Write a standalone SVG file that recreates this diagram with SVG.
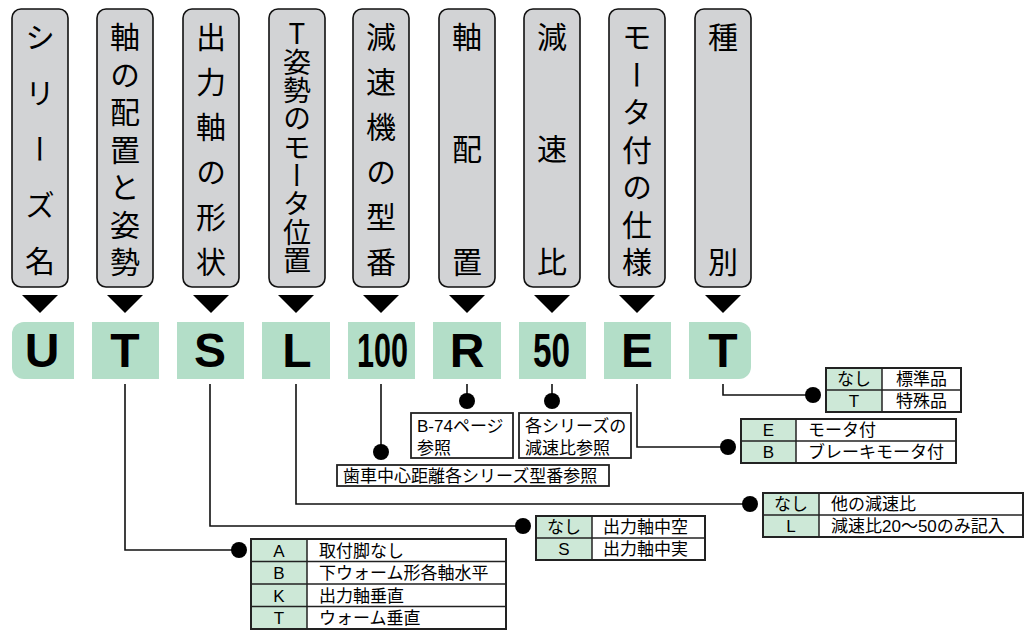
<svg xmlns="http://www.w3.org/2000/svg" width="1029" height="644" viewBox="0 0 1029 644">
<style>
.lbl{fill:#d2d3d5;stroke:#111;stroke-width:1.6}
.vt{font-family:"Noto Sans CJK JP",sans-serif;font-size:30px;fill:#000;writing-mode:vertical-rl;text-orientation:upright;text-anchor:start}
.tri{fill:#000}
.code{fill:#b3dec8}
.ct{font-family:"Liberation Sans",Arial,sans-serif;font-weight:bold;font-size:48px;fill:#000;text-anchor:middle}
.cn{font-family:"Liberation Sans",Arial,sans-serif;font-weight:bold;font-size:48px;fill:#000}
.ln{fill:none;stroke:#111;stroke-width:1.6}
.dot{fill:#000}
.tbo{fill:#fff;stroke:#222;stroke-width:2}
.tg{fill:#cde8d7}
.tl{stroke:#222;stroke-width:1.5}
.tt{font-family:"Liberation Sans","Noto Sans CJK JP",sans-serif;font-size:17px;fill:#000}
.tc{text-anchor:middle}
.bx{fill:#fff;stroke:#222;stroke-width:1.8}
</style>

<g id="label-series">
<rect class="lbl" x="12" y="9" width="56" height="278" rx="9"/>
<text class="vt"><tspan x="40" y="22">シ</tspan><tspan x="40" y="78">リ</tspan><tspan x="40" y="134">ー</tspan><tspan x="40" y="190">ズ</tspan><tspan x="40" y="246">名</tspan></text>
<polygon class="tri" points="22,295 58,295 40,313"/>
</g>
<g id="label-shaft-arrangement">
<rect class="lbl" x="97" y="9" width="56" height="278" rx="9"/>
<text class="vt"><tspan x="125" y="22">軸</tspan><tspan x="125" y="59.5">の</tspan><tspan x="125" y="97">配</tspan><tspan x="125" y="134.5">置</tspan><tspan x="125" y="172">と</tspan><tspan x="125" y="209.5">姿</tspan><tspan x="125" y="247">勢</tspan></text>
<polygon class="tri" points="107,295 143,295 125,313"/>
</g>
<g id="label-output-shaft">
<rect class="lbl" x="183" y="9" width="56" height="278" rx="9"/>
<text class="vt"><tspan x="211" y="22">出</tspan><tspan x="211" y="67">力</tspan><tspan x="211" y="112">軸</tspan><tspan x="211" y="157">の</tspan><tspan x="211" y="202">形</tspan><tspan x="211" y="247">状</tspan></text>
<polygon class="tri" points="193,295 229,295 211,313"/>
</g>
<g id="label-motor-position">
<rect class="lbl" x="269" y="9" width="56" height="278" rx="9"/>
<text class="vt" style="font-size:28px"><tspan x="297" y="19">T</tspan><tspan x="297" y="48">姿</tspan><tspan x="297" y="76">勢</tspan><tspan x="297" y="104">の</tspan><tspan x="297" y="133">モ</tspan><tspan x="297" y="161">ー</tspan><tspan x="297" y="189">タ</tspan><tspan x="297" y="218">位</tspan><tspan x="297" y="246">置</tspan></text>
<polygon class="tri" points="278,295 314,295 296,313"/>
</g>
<g id="label-reducer-model">
<rect class="lbl" x="353" y="9" width="56" height="278" rx="9"/>
<text class="vt"><tspan x="381" y="22">減</tspan><tspan x="381" y="67">速</tspan><tspan x="381" y="112">機</tspan><tspan x="381" y="157">の</tspan><tspan x="381" y="202">型</tspan><tspan x="381" y="247">番</tspan></text>
<polygon class="tri" points="363,295 399,295 381,313"/>
</g>
<g id="label-shaft-config">
<rect class="lbl" x="439" y="9" width="56" height="278" rx="9"/>
<text class="vt"><tspan x="467" y="22">軸</tspan><tspan x="467" y="134">配</tspan><tspan x="467" y="247">置</tspan></text>
<polygon class="tri" points="449,295 485,295 467,313"/>
</g>
<g id="label-ratio">
<rect class="lbl" x="524" y="9" width="56" height="278" rx="9"/>
<text class="vt"><tspan x="552" y="22">減</tspan><tspan x="552" y="134">速</tspan><tspan x="552" y="247">比</tspan></text>
<polygon class="tri" points="534,295 570,295 552,313"/>
</g>
<g id="label-motor-spec">
<rect class="lbl" x="609" y="9" width="56" height="278" rx="9"/>
<text class="vt"><tspan x="637" y="22">モ</tspan><tspan x="637" y="59.5">ー</tspan><tspan x="637" y="97">タ</tspan><tspan x="637" y="134.5">付</tspan><tspan x="637" y="172">の</tspan><tspan x="637" y="209.5">仕</tspan><tspan x="637" y="247">様</tspan></text>
<polygon class="tri" points="619,295 655,295 637,313"/>
</g>
<g id="label-type">
<rect class="lbl" x="695" y="9" width="56" height="278" rx="9"/>
<text class="vt"><tspan x="723" y="22">種</tspan><tspan x="723" y="247">別</tspan></text>
<polygon class="tri" points="705,295 741,295 723,313"/>
</g>

<g id="code-bar">
<path class="code" d="M24,322 H74 V379 H24 A12,12 0 0 1 12,367 V334 A12,12 0 0 1 24,322 Z"/>
<rect class="code" x="92" y="322" width="67" height="57"/>
<rect class="code" x="177" y="322" width="67" height="57"/>
<rect class="code" x="262" y="322" width="68" height="57"/>
<rect class="code" x="348" y="322" width="67" height="57"/>
<rect class="code" x="433" y="322" width="68" height="57"/>
<rect class="code" x="519" y="322" width="67" height="57"/>
<rect class="code" x="604" y="322" width="67" height="57"/>
<path class="code" d="M689,322 H739 A12,12 0 0 1 751,334 V367 A12,12 0 0 1 739,379 H689 Z"/>
<text class="ct" x="42" y="367">U</text>
<text class="ct" x="125" y="367">T</text>
<text class="ct" x="210" y="367">S</text>
<text class="ct" x="297" y="367">L</text>
<text class="cn" x="357" y="367" textLength="51" lengthAdjust="spacingAndGlyphs">100</text>
<text class="ct" x="467" y="367">R</text>
<text class="cn" x="533" y="367" textLength="37" lengthAdjust="spacingAndGlyphs">50</text>
<text class="ct" x="637" y="367">E</text>
<text class="ct" x="723" y="367">T</text>
</g>

<g id="connectors">
<path class="ln" d="M125,384 V550 H232"/>
<path class="ln" d="M210,384 V526 H516"/>
<path class="ln" d="M296,384 V504 H743"/>
<path class="ln" d="M381,384 V445"/>
<path class="ln" d="M467,384 V394"/>
<path class="ln" d="M552,384 V394"/>
<path class="ln" d="M637,384 V447 H721"/>
<path class="ln" d="M723,384 V395 H806"/>
<circle class="dot" cx="239" cy="550" r="8"/>
<circle class="dot" cx="523" cy="526" r="8"/>
<circle class="dot" cx="750" cy="504" r="8"/>
<circle class="dot" cx="381" cy="452" r="8"/>
<circle class="dot" cx="467" cy="401" r="8"/>
<circle class="dot" cx="552" cy="401" r="8"/>
<circle class="dot" cx="728" cy="447" r="8"/>
<circle class="dot" cx="813" cy="395" r="8"/>
</g>

<g id="note-center-distance">
<rect class="bx" x="337" y="465" width="272" height="21"/>
<text class="tt" x="343" y="482">歯車中心距離各シリーズ型番参照</text>
</g>
<g id="note-b74">
<rect class="bx" x="411" y="413" width="102" height="45"/>
<text class="tt"><tspan x="417" y="432">B-74ページ</tspan><tspan x="417" y="454">参照</tspan></text>
</g>
<g id="note-ratio">
<rect class="bx" x="519" y="413" width="112" height="45"/>
<text class="tt"><tspan x="525" y="432">各シリーズの</tspan><tspan x="525" y="454">減速比参照</tspan></text>
</g>

<g id="table-shaft-arrangement">
<rect class="tbo" x="251" y="539" width="255" height="90"/>
<rect class="tg" x="252" y="540" width="55" height="88"/>
<line class="tl" x1="307" y1="539" x2="307" y2="629"/>
<line class="tl" x1="251" y1="561.5" x2="506" y2="561.5"/>
<line class="tl" x1="251" y1="584" x2="506" y2="584"/>
<line class="tl" x1="251" y1="606.5" x2="506" y2="606.5"/>
<text class="tt tc" x="279" y="556.5">A</text>
<text class="tt tc" x="279" y="579">B</text>
<text class="tt tc" x="279" y="601.5">K</text>
<text class="tt tc" x="279" y="624">T</text>
<text class="tt" x="319" y="556.5">取付脚なし</text>
<text class="tt" x="319" y="579">下ウォーム形各軸水平</text>
<text class="tt" x="319" y="601.5">出力軸垂直</text>
<text class="tt" x="319" y="624">ウォーム垂直</text>
</g>

<g id="table-output-shaft">
<rect class="tbo" x="536" y="516" width="169" height="44"/>
<rect class="tg" x="537" y="517" width="55" height="42"/>
<line class="tl" x1="592" y1="516" x2="592" y2="560"/>
<line class="tl" x1="536" y1="538" x2="705" y2="538"/>
<text class="tt tc" x="564" y="533">なし</text>
<text class="tt tc" x="564" y="555">S</text>
<text class="tt" x="603" y="533">出力軸中空</text>
<text class="tt" x="603" y="555">出力軸中実</text>
</g>

<g id="table-motor-position">
<rect class="tbo" x="763" y="493" width="260" height="44"/>
<rect class="tg" x="764" y="494" width="55" height="42"/>
<line class="tl" x1="819" y1="493" x2="819" y2="537"/>
<line class="tl" x1="763" y1="515" x2="1023" y2="515"/>
<text class="tt tc" x="791" y="510">なし</text>
<text class="tt tc" x="791" y="532">L</text>
<text class="tt" x="831" y="510">他の減速比</text>
<text class="tt" x="831" y="532">減速比20～50のみ記入</text>
</g>

<g id="table-motor-spec">
<rect class="tbo" x="741" y="419" width="215" height="44"/>
<rect class="tg" x="742" y="420" width="54" height="42"/>
<line class="tl" x1="796" y1="419" x2="796" y2="463"/>
<line class="tl" x1="741" y1="441" x2="956" y2="441"/>
<text class="tt tc" x="768.5" y="436">E</text>
<text class="tt tc" x="768.5" y="458">B</text>
<text class="tt" x="808" y="436">モータ付</text>
<text class="tt" x="808" y="458">ブレーキモータ付</text>
</g>

<g id="table-type">
<rect class="tbo" x="826" y="368" width="135" height="44"/>
<rect class="tg" x="827" y="369" width="55" height="42"/>
<line class="tl" x1="882" y1="368" x2="882" y2="412"/>
<line class="tl" x1="826" y1="390" x2="961" y2="390"/>
<text class="tt tc" x="854" y="385">なし</text>
<text class="tt tc" x="854" y="407">T</text>
<text class="tt tc" x="921.5" y="385">標準品</text>
<text class="tt tc" x="921.5" y="407">特殊品</text>
</g>
</svg>
